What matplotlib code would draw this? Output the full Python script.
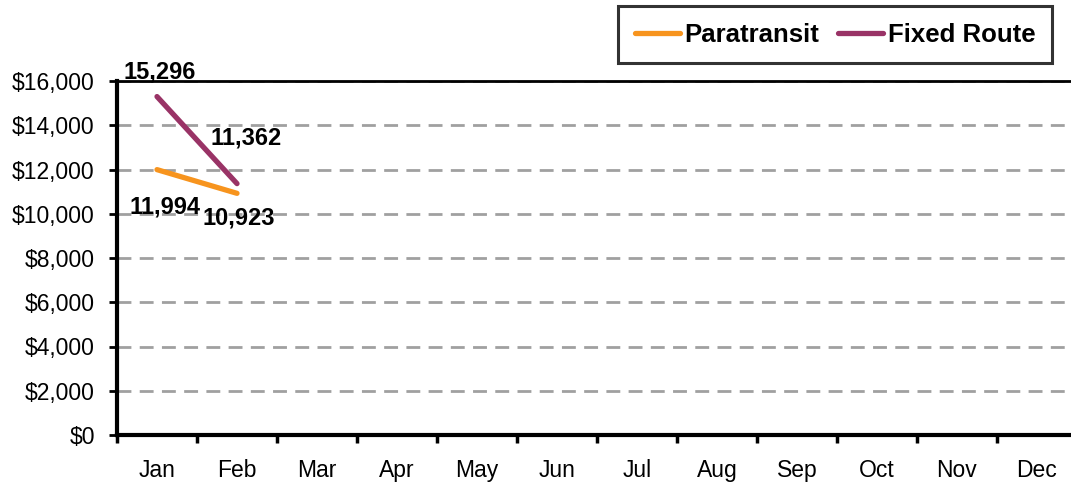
import matplotlib.pyplot as plt
from matplotlib.ticker import FuncFormatter

# data
months = ["Jan", "Feb", "Mar", "Apr", "May", "Jun", "Jul", "Aug", "Sep", "Oct", "Nov", "Dec"]
paratransit = [11994, 10923]
fixed_route = [15296, 11362]

plt.rcParams['font.family'] = ['Liberation Sans', 'DejaVu Sans']

W, H = 1071, 484
fig = plt.figure(figsize=(W / 100, H / 100), dpi=100)
# axes runs past the right edge, like the source
ax = fig.add_axes([117 / W, 1 - 435 / H, 960 / W, (435 - 81) / H])

x = list(range(len(months)))
ax.plot(x[:len(paratransit)], paratransit, color='#F7941E', lw=3.8,
        solid_capstyle='round', label='Paratransit', zorder=3)
ax.plot(x[:len(fixed_route)], fixed_route, color='#993366', lw=3.8,
        solid_capstyle='round', label='Fixed Route', zorder=3)

# value labels
lbl = dict(textcoords='offset pixels', ha='center', va='center',
           fontsize=17, fontweight='bold')
ax.annotate(f"{fixed_route[0]:,}", (0, fixed_route[0]), xytext=(3, 25), **lbl)
ax.annotate(f"{fixed_route[1]:,}", (1, fixed_route[1]), xytext=(9, 46), **lbl)
ax.annotate(f"{paratransit[0]:,}", (0, paratransit[0]), xytext=(8, -37), **lbl)
ax.annotate(f"{paratransit[1]:,}", (1, paratransit[1]), xytext=(2, -25), **lbl)

ax.set_xlim(-0.5, 11.5)
ax.set_ylim(0, 16000)
ax.set_yticks(range(0, 16001, 2000))
ax.yaxis.set_major_formatter(FuncFormatter(lambda v, p: f"${v:,.0f}"))
ax.set_xticks([i + 0.5 for i in range(-1, 12)])
ax.set_xticklabels([])
ax.set_xticks(x, minor=True)
ax.set_xticklabels(months, minor=True)
ax.tick_params(axis='x', which='minor', length=0, pad=17, labelsize=16.5)
ax.tick_params(axis='x', which='major', length=6, width=2.5, direction='out')
ax.tick_params(axis='y', length=6, width=2, direction='out', pad=10, labelsize=16.5)

ax.grid(axis='y', color='#A0A0A0', linestyle=(0, (5, 3)), lw=2)
ax.set_axisbelow(True)
for s in ['left', 'bottom']:
    ax.spines[s].set_linewidth(3)
ax.spines['top'].set_linewidth(2)
ax.spines['right'].set_visible(False)

leg = fig.legend(loc='upper right', bbox_to_anchor=(1052 / W, 1 - 6 / H), ncol=2,
                 prop={'weight': 'bold', 'size': 18.5}, frameon=True, fancybox=False,
                 handlelength=1.75, handletextpad=0.2, columnspacing=0.7,
                 borderpad=0.65, borderaxespad=0)
leg.get_frame().set_edgecolor('black')
leg.get_frame().set_linewidth(2.2)

fig.savefig("out.png", dpi=100)
